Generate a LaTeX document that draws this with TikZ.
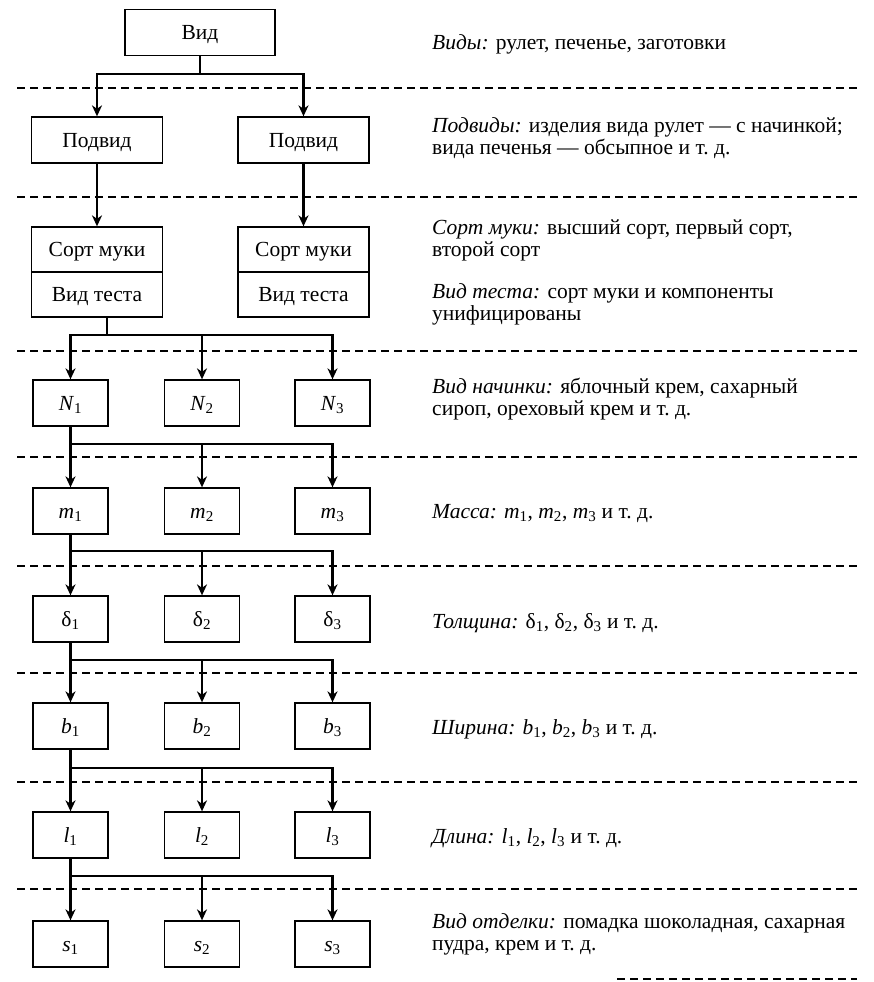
\documentclass[tikz,border=0pt]{standalone}
\usepackage{fontspec}
\setmainfont{Liberation Serif}
\usetikzlibrary{arrows.meta}
\newcommand{\sub}[2]{#1\textsubscript{#2}}
\tikzset{
  basefont/.style={font=\fontsize{21.5}{22}\selectfont},
  box/.style={draw, line width=1.3pt, minimum height=46pt, inner sep=0pt,
    text height=14pt, text depth=0pt, basefont},
  widebox/.style={box, minimum width=131pt},
  smallbox/.style={box, minimum width=75pt},
  conn/.style={line width=2.3pt},
  arr/.style={conn, -{Stealth[length=11pt,width=10pt,inset=3.5pt]}},
  sep/.style={line width=1.1pt, dash pattern=on 8pt off 5pt},
  note/.style={anchor=base west, inner sep=0pt, basefont},
}
\begin{document}
\begin{tikzpicture}[x=1pt,y=-1pt]
\useasboundingbox (0,0) rectangle (873,982);

% level separators
\foreach \y in {88,197,351,457,566,673,782,889}
  \draw[sep] (17,\y) -- (857,\y);
\draw[sep] (617,979) -- (857,979);

% top levels
\node[box, minimum width=150pt] (vid) at (200,32.5) {Вид};
\node[widebox] (pod1) at (97,140) {Подвид};
\node[widebox] (pod2) at (303.5,140) {Подвид};
\node[widebox, minimum height=45pt] (sort1) at (97,249.5) {Сорт муки};
\node[widebox, minimum height=45pt] (test1) at (97,294.5) {Вид теста};
\node[widebox, minimum height=45pt] (sort2) at (303.5,249.5) {Сорт муки};
\node[widebox, minimum height=45pt] (test2) at (303.5,294.5) {Вид теста};

% parameter rows
\foreach \r/\y/\lab in {n/403/\textit{N}, m/511/\textit{m}, d/619/δ,
                        b/726/\textit{b}, l/835/\textit{l}, s/944/\textit{s}}
  \foreach \i/\x in {1/70.5, 2/202, 3/332.5}
    \node[smallbox] (\r\i) at (\x,\y) {\sub{\lab}{\i}};

% branch points
\coordinate (j1) at (200,74);
\coordinate (j2) at (107,335);
\coordinate (j3) at (70.5,444);
\coordinate (j4) at (70.5,551);
\coordinate (j5) at (70.5,660);
\coordinate (j6) at (70.5,768);
\coordinate (j7) at (70.5,876);

% connectors
\draw[conn] (vid.south) -- (j1);
\draw[arr] (j1) -| (pod1.north);
\draw[arr] (j1) -| (pod2.north);
\draw[arr] (pod1.south) -- (sort1.north);
\draw[arr] (pod2.south) -- (sort2.north);
\draw[conn] (test1.south -| j2) -- (j2);
\foreach \t in {n1,n2,n3} \draw[arr] (j2) -| (\t.north);

\foreach \src/\j/\row in {n1/j3/m, m1/j4/d, d1/j5/b, b1/j6/l, l1/j7/s} {
  \draw[conn] (\src.south) -- (\j);
  \foreach \i in {1,2,3} \draw[arr] (\j) -| (\row\i.north);
}

% explanations
\node[note] (t1) at (432,50) {\textit{Виды:} рулет, печенье, заготовки};
\node[note] (t2a) at (432,132) {\textit{Подвиды:} изделия вида рулет — с начинкой;};
\node[note] (t2b) at (432,154) {вида печенья — обсыпное и т.~д.};
\node[note] (t3a) at (432,234) {\textit{Сорт муки:} высший сорт, первый сорт,};
\node[note] (t3b) at (432,256) {второй сорт};
\node[note] (t4a) at (432,298) {\textit{Вид теста:} сорт муки и компоненты};
\node[note] (t4b) at (432,320) {унифицированы};
\node[note] (t5a) at (432,393) {\textit{Вид начинки:} яблочный крем, сахарный};
\node[note] (t5b) at (432,415) {сироп, ореховый крем и т.~д.};
\node[note] (t6) at (432,518) {\textit{Масса:} \sub{\textit{m}}{1}, \sub{\textit{m}}{2}, \sub{\textit{m}}{3} и т.~д.};
\node[note] (t7) at (432,628) {\textit{Толщина:} \sub{δ}{1}, \sub{δ}{2}, \sub{δ}{3} и т.~д.};
\node[note] (t8) at (432,734) {\textit{Ширина:} \sub{\textit{b}}{1}, \sub{\textit{b}}{2}, \sub{\textit{b}}{3} и т.~д.};
\node[note] (t9) at (432,843) {\textit{Длина:} \sub{\textit{l}}{1}, \sub{\textit{l}}{2}, \sub{\textit{l}}{3} и т.~д.};
\node[note] (t10a) at (432,928) {\textit{Вид отделки:} помадка шоколадная, сахарная};
\node[note] (t10b) at (432,950) {пудра, крем и т.~д.};
\end{tikzpicture}
\end{document}
